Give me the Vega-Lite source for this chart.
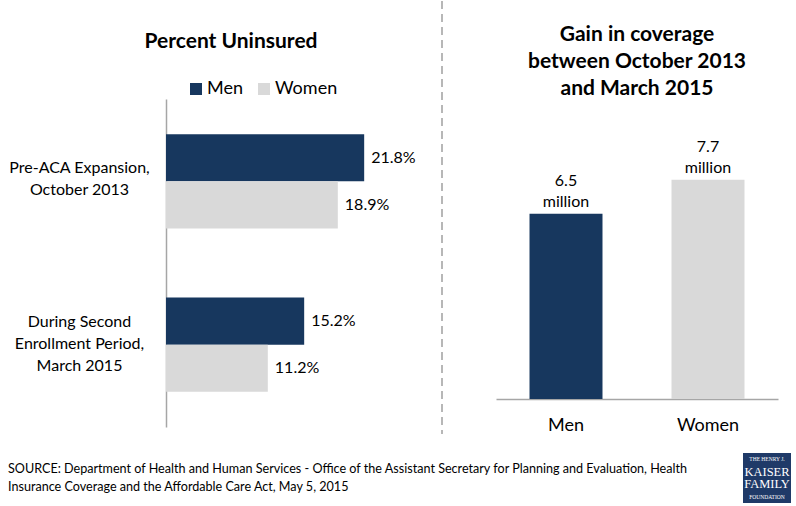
{
  "$schema": "https://vega.github.io/schema/vega-lite/v6.json",
  "padding": {"left": 8, "top": 0, "right": 0, "bottom": 0},
  "spacing": 18,
  "vconcat": [
    {
      "bounds": "flush",
      "spacing": 6,
      "resolve": {"scale": {"color": "independent"}},
      "hconcat": [
        {
          "width": 270,
          "height": 328,
          "data": {"values": [
            {"period": "Pre-ACA Expansion, October 2013", "gender": "Men", "pct": 0.218},
            {"period": "Pre-ACA Expansion, October 2013", "gender": "Women", "pct": 0.189},
            {"period": "During Second Enrollment Period, March 2015", "gender": "Men", "pct": 0.152},
            {"period": "During Second Enrollment Period, March 2015", "gender": "Women", "pct": 0.112}
          ]},
          "title": {"text": "Percent Uninsured", "fontSize": 21, "frame": "group", "dx": -70, "offset": 28},
          "encoding": {
            "y": {
              "field": "period", "type": "nominal", "sort": null,
              "scale": {"paddingInner": 0.423, "paddingOuter": 0.215},
              "axis": {
                "title": null, "ticks": false, "labelAlign": "center", "labelPadding": 87,
                "labelFontSize": 16, "labelLineHeight": 22, "labelLimit": 0,
                "labelOffset": {"condition": {"test": "datum.value == 'Pre-ACA Expansion, October 2013'", "value": -13}, "value": -23},
                "domainColor": "#a6a6a6", "domainWidth": 1.5,
                "labelExpr": "datum.value == 'Pre-ACA Expansion, October 2013' ? ['Pre-ACA Expansion,', 'October 2013'] : ['During Second', 'Enrollment Period,', 'March 2015']"
              }
            },
            "yOffset": {"field": "gender", "sort": ["Men", "Women"]},
            "x": {"field": "pct", "type": "quantitative", "scale": {"domain": [0, 0.297], "nice": false}, "axis": null}
          },
          "layer": [
            {
              "mark": {"type": "bar"},
              "encoding": {
                "color": {
                  "field": "gender", "type": "nominal",
                  "scale": {"domain": ["Men", "Women"], "range": ["#17375e", "#d9d9d9"]},
                  "legend": {
                    "orient": "none", "legendX": 21, "legendY": -19, "direction": "horizontal",
                    "title": null, "symbolType": "square", "symbolSize": 144, "symbolStrokeWidth": 0,
                    "labelFontSize": 18, "labelOffset": 2, "columnPadding": 12, "padding": 0
                  }
                }
              }
            },
            {
              "mark": {"type": "text", "align": "left", "baseline": "middle", "dx": 7, "fontSize": 16},
              "encoding": {"text": {"field": "pct", "format": ".1%"}}
            }
          ]
        },
        {
          "width": 48,
          "height": 335,
          "data": {"values": [{"line": "separator"}]},
          "mark": {"type": "rule", "color": "#a0a0a0", "strokeWidth": 1.5, "strokeDash": [8, 5]},
          "encoding": {
            "x": {"datum": 0, "type": "quantitative", "scale": {"domain": [0, 1]}, "axis": null},
            "y": {"datum": 0, "type": "quantitative", "scale": {"domain": [98, 433], "reverse": true, "nice": false}, "axis": null},
            "y2": {"datum": 433}
          }
        },
        {
          "width": 282,
          "height": 300,
          "data": {"values": [
            {"gender": "Men", "gain": 6.5},
            {"gender": "Women", "gain": 7.7}
          ]},
          "title": {"text": ["Gain in coverage", "between October 2013", "and March 2015"], "fontSize": 21, "lineHeight": 27, "offset": 0},
          "encoding": {
            "x": {
              "field": "gender", "type": "nominal",
              "scale": {"paddingInner": 0.486, "paddingOuter": 0.236},
              "axis": {"title": null, "labelAngle": 0, "ticks": false, "labelFontSize": 18, "labelPadding": 17, "domainColor": "#a6a6a6", "domainWidth": 1.5}
            },
            "y": {"field": "gain", "type": "quantitative", "scale": {"domain": [0, 10.53], "nice": false}, "axis": null}
          },
          "layer": [
            {
              "mark": {"type": "bar"},
              "encoding": {
                "color": {"field": "gender", "type": "nominal", "scale": {"domain": ["Men", "Women"], "range": ["#17375e", "#d9d9d9"]}, "legend": null}
              }
            },
            {
              "mark": {"type": "text", "baseline": "middle", "dy": -33, "fontSize": 16},
              "encoding": {"text": {"field": "gain", "format": ".1f"}}
            },
            {
              "mark": {"type": "text", "baseline": "middle", "dy": -12, "fontSize": 16},
              "encoding": {"text": {"value": "million"}}
            }
          ]
        }
      ]
    },
    {
      "bounds": "flush",
      "spacing": 8,
      "hconcat": [
        {
          "width": 569,
          "height": 50,
          "data": {"values": [
            {"line": 1, "source": "SOURCE: Department of Health and Human Services - Office of the Assistant Secretary for Planning and Evaluation, Health"},
            {"line": 2, "source": "Insurance Coverage and the Affordable Care Act, May 5, 2015"}
          ]},
          "mark": {"type": "text", "align": "left", "baseline": "middle", "fontSize": 12.6, "dx": -158},
          "encoding": {
            "x": {"datum": 0, "type": "quantitative", "scale": {"domain": [0, 1]}, "axis": null},
            "y": {"field": "line", "type": "ordinal", "scale": {"type": "point", "padding": 0.85}, "axis": null},
            "text": {"field": "source"}
          }
        },
        {
          "width": 48,
          "height": 50,
          "view": {"fill": "#1f3a68", "stroke": null},
          "data": {"values": [
            {"row": 1, "word": "THE HENRY J."},
            {"row": 2, "word": "KAISER"},
            {"row": 3, "word": "FAMILY"},
            {"row": 4, "word": "FOUNDATION"}
          ]},
          "encoding": {
            "y": {"field": "row", "type": "ordinal", "scale": {"type": "point", "padding": 0.45}, "axis": null},
            "text": {"field": "word"}
          },
          "layer": [
            {
              "transform": [{"filter": "datum.row == 2 || datum.row == 3"}],
              "mark": {"type": "text", "baseline": "middle", "color": "white", "font": "Liberation Serif", "fontSize": 12.5}
            },
            {
              "transform": [{"filter": "datum.row == 1 || datum.row == 4"}],
              "mark": {"type": "text", "baseline": "middle", "color": "white", "font": "Liberation Serif", "fontSize": 5.5}
            }
          ]
        }
      ]
    }
  ],
  "config": {
    "font": "Lato",
    "background": "white",
    "view": {"stroke": null},
    "title": {"fontWeight": "bold", "color": "#000000"},
    "axis": {"labelColor": "#000000", "labelFont": "Lato"},
    "legend": {"labelColor": "#000000"},
    "text": {"color": "#000000"}
  }
}
